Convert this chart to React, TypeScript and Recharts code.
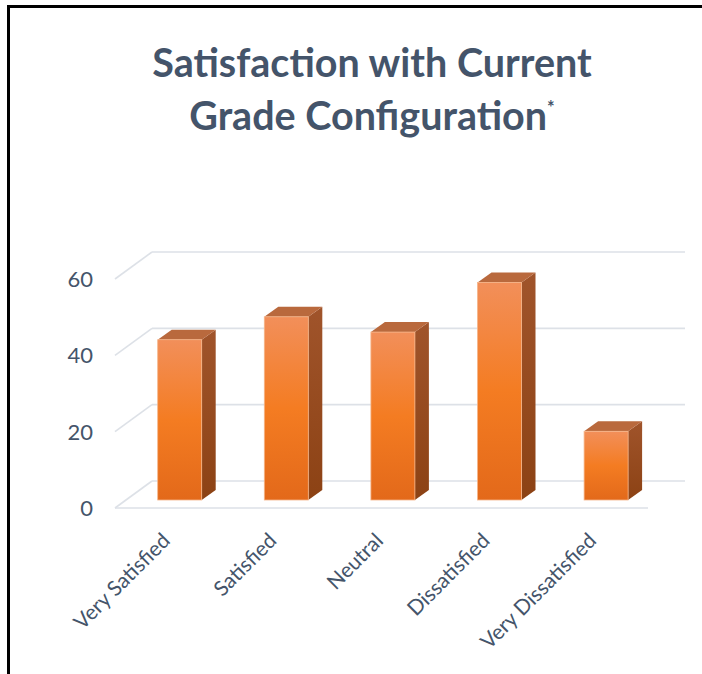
import React from 'react';
import { BarChart, Bar, XAxis, YAxis, CartesianGrid } from 'recharts';

const categories = ['Very Satisfied', 'Satisfied', 'Neutral', 'Dissatisfied', 'Very Dissatisfied'];
const values = [42, 48, 44, 57, 18];
const yTicks = [0, 20, 40, 60];
const titleLine1 = 'Satisfaction with Current';
const titleLine2 = 'Grade Configuration';

const data = categories.map((name, i) => ({ name, value: values[i] }));

const FONT = 'Lato, "Open Sans", sans-serif';
const TEXT_COLOR = '#44546A';
const GRID_COLOR = '#DDE1E7';

// 3D projection offsets
const DEPTH_X = 37;
const DEPTH_Y = -27;
const BAR_DX = 11.7;
const BAR_DY = -8;
const SIDE_X = 14;
const SIDE_Y = -10;

const gridLine = (p: any) => {
  const { x1, y1, x2 } = p;
  return (
    <g key={p.key ?? `g-${y1}`}>
      <line x1={x1} y1={y1} x2={x1 + DEPTH_X} y2={y1 + DEPTH_Y} stroke={GRID_COLOR} strokeWidth={1.6} />
      <line x1={x1 + DEPTH_X} y1={y1 + DEPTH_Y} x2={x2 + DEPTH_X} y2={y1 + DEPTH_Y} stroke={GRID_COLOR} strokeWidth={1.6} />
    </g>
  );
};

const Bar3D = (p: any) => {
  const { x, y, width, height } = p;
  if (height == null || height <= 0) return <g />;
  const fx = x + BAR_DX;
  const fy = y + BAR_DY;
  const w = width;
  const h = height;
  const side = `${fx + w},${fy} ${fx + w + SIDE_X},${fy + SIDE_Y} ${fx + w + SIDE_X},${fy + h + SIDE_Y} ${fx + w},${fy + h}`;
  const top = `${fx},${fy} ${fx + SIDE_X},${fy + SIDE_Y} ${fx + w + SIDE_X},${fy + SIDE_Y} ${fx + w},${fy}`;
  return (
    <g>
      <polygon points={side} fill="url(#sideGrad)" />
      <polygon points={top} fill="#B9693D" />
      <rect x={fx} y={fy} width={w} height={h} fill="url(#frontGrad)" stroke="#F6B589" strokeWidth={0.8} />
    </g>
  );
};

const XTick = (p: any) => {
  const { x, y, payload } = p;
  const ax = x + 3;
  const ay = y + 26;
  return (
    <text
      x={ax}
      y={ay}
      transform={`rotate(-45 ${ax} ${ay})`}
      textAnchor="end"
      fill={TEXT_COLOR}
      fontSize={21}
      fontFamily={FONT}
    >
      {payload.value}
    </text>
  );
};

const YTick = (p: any) => {
  const { x, y, payload } = p;
  return (
    <text x={x} y={y + 8} textAnchor="end" fill={TEXT_COLOR} fontSize={22} fontFamily={FONT}>
      {payload.value}
    </text>
  );
};

export default function App() {
  return (
    <div style={{ position: 'absolute', left: 0, top: 0, width: 702, height: 674, background: '#fff', overflow: 'hidden' }}>
      <div
        style={{
          position: 'absolute',
          left: 7,
          top: 5,
          width: 695,
          height: 669,
          borderTop: '3px solid #000',
          borderLeft: '3px solid #000',
          boxSizing: 'border-box',
        }}
      />
      <BarChart
        width={702}
        height={674}
        data={data}
        margin={{ top: 279, right: 54, bottom: 0, left: 0 }}
        style={{ position: 'absolute', left: 0, top: 0 }}
      >
        <defs>
          <linearGradient id="frontGrad" x1="0" y1="0" x2="0" y2="1">
            <stop offset="0%" stopColor="#F28F5A" />
            <stop offset="50%" stopColor="#F47C22" />
            <stop offset="100%" stopColor="#E3691A" />
          </linearGradient>
          <linearGradient id="sideGrad" x1="0" y1="0" x2="0" y2="1">
            <stop offset="0%" stopColor="#A0542B" />
            <stop offset="100%" stopColor="#8C4214" />
          </linearGradient>
        </defs>
        <CartesianGrid vertical={false} horizontal={gridLine} />
        <XAxis
          dataKey="name"
          interval={0}
          height={166}
          tickLine={false}
          axisLine={{ stroke: GRID_COLOR, strokeWidth: 1.6 }}
          tick={<XTick />}
        />
        <YAxis
          domain={[0, 60]}
          ticks={yTicks}
          width={115}
          axisLine={false}
          tickLine={false}
          tickSize={0}
          tickMargin={22}
          tick={<YTick />}
        />
        <Bar dataKey="value" barSize={44} shape={Bar3D} isAnimationActive={false} />
      </BarChart>
      <svg width={702} height={674} style={{ position: 'absolute', left: 0, top: 0, pointerEvents: 'none' }}>
        <text x={372} y={77} textAnchor="middle" fill={TEXT_COLOR} fontSize={39.5} fontWeight={700} fontFamily={FONT}>
          {titleLine1}
        </text>
        <text x={372} y={130} textAnchor="middle" fill={TEXT_COLOR} fontSize={39.5} fontWeight={700} fontFamily={FONT}>
          {titleLine2}
          <tspan fontSize={18} dy={-16}>*</tspan>
        </text>
      </svg>
    </div>
  );
}
